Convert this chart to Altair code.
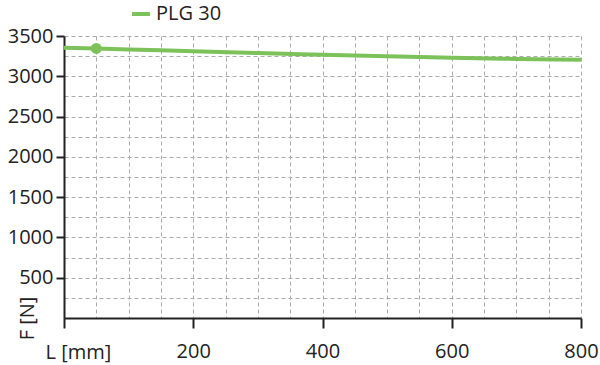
import altair as alt
import pandas as pd

lengths = [0, 100, 200, 300, 400, 500, 600, 700, 800]
forces = [3355, 3333, 3311, 3289, 3268, 3248, 3230, 3216, 3205]
point_len = [50]
point_force = [3345]
series = "PLG 30"

x_grid = list(range(0, 801, 50))
y_grid = list(range(0, 3501, 250))

df = pd.DataFrame({"L": lengths, "F": forces, "s": series})
dp = pd.DataFrame({"L": point_len, "F": point_force, "s": series})

FONT = "Open Sans"
GREEN = "#7cc15a"

xs = alt.Scale(domain=[0, 800], nice=False, zero=True)
ys = alt.Scale(domain=[0, 3500], nice=False)

x_axis = alt.Axis(
    values=x_grid,
    grid=True, gridDash=[4, 3], gridColor="#ababab", gridWidth=1,
    domainColor="#222", domainWidth=2,
    tickColor="#222", tickWidth=2, tickSize=10,
    tickOpacity={"condition": {"test": "datum.value % 200 === 0", "value": 1}, "value": 0},
    labelExpr="datum.value % 200 === 0 && datum.value > 0 ? datum.label : ''",
    labelFontSize=20, labelFont=FONT, labelColor="#222", labelPadding=13,
    labelFlush=False, labelOverlap=False,
    title="L [mm]", titleFont=FONT, titleFontSize=20, titleFontWeight="normal",
    titleColor="#222", titleAnchor="start", titleAlign="left",
    titleX=-19, titleY=40, titleBaseline="alphabetic",
)
y_axis = alt.Axis(
    values=y_grid,
    grid=True, gridDash=[4, 3], gridColor="#ababab", gridWidth=1,
    domainColor="#222", domainWidth=2,
    tickColor="#222", tickWidth=2, tickSize=8,
    tickOpacity={"condition": {"test": "datum.value % 500 === 0 && datum.value > 0", "value": 1}, "value": 0},
    labelExpr="datum.value % 500 === 0 && datum.value > 0 ? datum.label : ''",
    labelFontSize=20, labelFont=FONT, labelColor="#222", labelPadding=3,
    labelFlush=False, labelOverlap=False, format="d",
    title="F [N]", titleFont=FONT, titleFontSize=20, titleFontWeight="normal",
    titleColor="#222", titleAngle=270, titleAlign="center", titleBaseline="middle",
    titleX=-37, titleY=282,
)

color = alt.Color(
    "s:N",
    scale=alt.Scale(domain=[series], range=[GREEN]),
    legend=alt.Legend(
        orient="none", legendX=66, legendY=-33, title=None,
        symbolType="stroke", symbolStrokeWidth=4, symbolSize=320,
        labelFont=FONT, labelFontSize=20, labelColor="#222",
    ),
)

line = alt.Chart(df).mark_line(strokeWidth=4, interpolate="monotone").encode(
    x=alt.X("L:Q", scale=xs, axis=x_axis),
    y=alt.Y("F:Q", scale=ys, axis=y_axis),
    color=color,
)
pt = alt.Chart(dp).mark_circle(size=120, opacity=1).encode(
    x=alt.X("L:Q", scale=xs, axis=x_axis),
    y=alt.Y("F:Q", scale=ys, axis=y_axis),
    color=color,
)

chart = (line + pt).properties(
    width=517, height=282,
    autosize=alt.AutoSizeParams(type="none"),
    padding={"left": 64, "top": 36, "right": 19, "bottom": 47},
    background="white",
).configure_view(stroke=None)

chart.save("out.html", embed_options={"renderer": "svg", "actions": False})
